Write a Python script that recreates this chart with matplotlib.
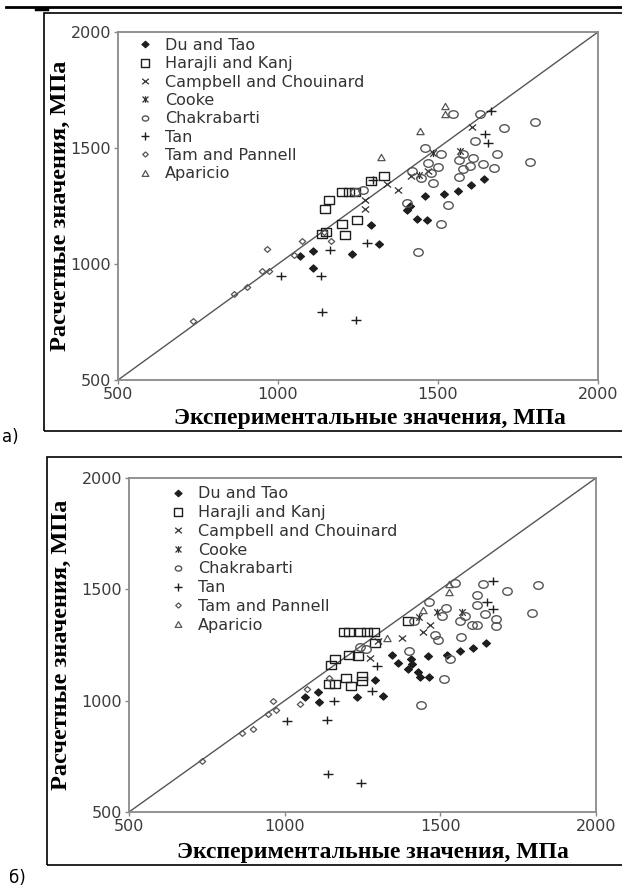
import numpy as np
import matplotlib
matplotlib.use("Agg")
import matplotlib.pyplot as plt
from matplotlib.markers import MarkerStyle
from matplotlib.path import Path
from matplotlib.lines import Line2D

# ---------------------------------------------------------------- data
limits = [500, 2000]
ticks = [500, 1000, 1500, 2000]
tick_labels = ["500", "1000", "1500", "2000"]
series_names = ["Du and Tao", "Harajli and Kanj", "Campbell and Chouinard",
                "Cooke", "Chakrabarti", "Tan", "Tam and Pannell", "Aparicio"]
xlabel_text = "Экспериментальные значения, МПа"
ylabel_text = "Расчетные значения, МПа"
panel_tags = ["а)", "б)"]

# panel (а): experimental vs calculated stress, MPa
du_a_x = [1068, 1110, 1110, 1230, 1292, 1316, 1402, 1413, 1433, 1467, 1460, 1519, 1563, 1602, 1645]
du_a_y = [1036, 1054, 983, 1044, 1166, 1088, 1232, 1250, 1196, 1190, 1295, 1302, 1314, 1340, 1368]
har_a_x = [1136, 1150, 1147, 1160, 1200, 1222, 1240, 1200, 1209, 1248, 1291, 1331]
har_a_y = [1130, 1140, 1235, 1278, 1310, 1310, 1310, 1174, 1127, 1189, 1357, 1380]
cam_a_x = [1272, 1272, 1340, 1376, 1415, 1470, 1606]
cam_a_y = [1235, 1278, 1343, 1321, 1378, 1400, 1589]
coo_a_x = [1485, 1569, 1440]
coo_a_y = [1480, 1487, 1385]
cha_a_x = [1632, 1705, 1802, 1788, 1616, 1683, 1675, 1642, 1610, 1600, 1567, 1577, 1579, 1567,
           1458, 1510, 1500, 1484, 1479, 1418, 1530, 1510, 1438, 1402, 1547, 1448, 1469, 1241, 1266]
cha_a_y = [1645, 1588, 1610, 1441, 1530, 1472, 1415, 1429, 1458, 1422, 1448, 1472, 1408, 1375,
           1502, 1473, 1419, 1347, 1393, 1400, 1253, 1174, 1050, 1264, 1645, 1371, 1435, 1310, 1321]
tan_a_x = [1009, 1134, 1138, 1243, 1162, 1277, 1296, 1647, 1656, 1665]
tan_a_y = [949, 949, 792, 759, 1059, 1091, 1360, 1562, 1523, 1660]
tam_a_x = [733, 862, 902, 949, 973, 965, 1051, 1076, 1145, 1165]
tam_a_y = [755, 870, 899, 968, 968, 1066, 1040, 1098, 1140, 1100]
apa_a_x = [1323, 1444, 1521, 1523]
apa_a_y = [1461, 1573, 1645, 1681]

# panel (б)
du_b_x = [1065, 1106, 1110, 1231, 1290, 1316, 1346, 1365, 1406, 1410, 1397, 1429, 1435, 1465,
          1459, 1522, 1563, 1606, 1646]
du_b_y = [1017, 1037, 992, 1017, 1091, 1019, 1207, 1167, 1185, 1165, 1144, 1127, 1107, 1105,
          1200, 1207, 1222, 1237, 1260]
har_b_x = [1190, 1207, 1242, 1263, 1287, 1162, 1148, 1208, 1234, 1143, 1162, 1196, 1212, 1247,
           1247, 1290, 1397]
har_b_y = [1308, 1308, 1308, 1308, 1308, 1188, 1158, 1203, 1200, 1077, 1076, 1102, 1064, 1109,
           1090, 1260, 1357]
cam_b_x = [1274, 1300, 1376, 1443, 1467]
cam_b_y = [1192, 1270, 1282, 1310, 1342]
coo_b_x = [1488, 1568, 1430]
coo_b_y = [1398, 1398, 1375]
cha_b_x = [1547, 1638, 1715, 1813, 1794, 1619, 1619, 1644, 1679, 1679, 1603, 1617, 1563, 1579,
           1565, 1518, 1504, 1464, 1483, 1494, 1531, 1513, 1437, 1400, 1415, 1242, 1260]
cha_b_y = [1527, 1522, 1492, 1520, 1392, 1473, 1428, 1387, 1368, 1335, 1342, 1342, 1357, 1380,
           1287, 1414, 1380, 1443, 1297, 1272, 1188, 1098, 979, 1225, 1357, 1242, 1233]
tan_b_x = [1006, 1135, 1140, 1244, 1158, 1280, 1297, 1670, 1649, 1668]
tan_b_y = [907, 914, 671, 632, 997, 1042, 1157, 1537, 1443, 1413]
tam_b_x = [733, 862, 899, 945, 971, 963, 1049, 1071, 1143]
tam_b_y = [731, 857, 874, 941, 956, 1000, 986, 1053, 1100]
apa_b_x = [1328, 1443, 1528, 1528]
apa_b_y = [1282, 1407, 1488, 1522]

panel_a = [(du_a_x, du_a_y), (har_a_x, har_a_y), (cam_a_x, cam_a_y), (coo_a_x, coo_a_y),
           (cha_a_x, cha_a_y), (tan_a_x, tan_a_y), (tam_a_x, tam_a_y), (apa_a_x, apa_a_y)]
panel_b = [(du_b_x, du_b_y), (har_b_x, har_b_y), (cam_b_x, cam_b_y), (coo_b_x, coo_b_y),
           (cha_b_x, cha_b_y), (tan_b_x, tan_b_y), (tam_b_x, tam_b_y), (apa_b_x, apa_b_y)]

# ---------------------------------------------------------------- styling
W, H = 622, 888
SANS = "DejaVu Sans"
SERIF = "Liberation Serif"
SPINE = "#8a8a8a"
INK = "#1e1e1e"


def wide(name, sx=1.2):
    """Marker path slightly stretched horizontally."""
    ms = MarkerStyle(name)
    p = ms.get_path().transformed(ms.get_transform())
    return Path(p.vertices * np.array([sx, 1.0]), p.codes)


star_path = Path([(-0.8, -0.8), (0.8, 0.8), (-0.8, 0.8), (0.8, -0.8), (0, -0.9), (0, 0.9)],
                 [Path.MOVETO, Path.LINETO, Path.MOVETO, Path.LINETO, Path.MOVETO, Path.LINETO])

# marker, size in plot, size in legend, face, edge, edge width
styles = [
    (wide("D", 1.1), 5.8, 5.2, INK, INK, 0.8),
    (wide("s", 1.15), 6.8, 6.0, "none", INK, 1.0),
    (wide("x", 1.2), 5.2, 4.8, "none", "#333333", 0.9),
    (star_path, 5.2, 4.8, "none", "#333333", 0.9),
    (wide("o", 1.25), 6.8, 4.6, "none", "#555555", 1.0),
    (wide("+", 1.15), 6.8, 6.2, "none", INK, 1.0),
    (wide("D", 1.1), 4.6, 4.0, "none", "#555555", 0.9),
    (wide("^", 1.15), 5.2, 4.8, "none", "#555555", 0.9),
]

fig = plt.figure(figsize=(W / 100, H / 100), dpi=100)


def fbox(l, t, r, b):
    return [l / W, 1 - b / H, (r - l) / W, (b - t) / H]


def frame(l, t, b):
    fig.add_artist(plt.Rectangle((l / W, 1 - b / H), (W + 20 - l) / W, (b - t) / H,
                                 transform=fig.transFigure, fill=False, ec="black",
                                 lw=1.2, clip_on=False))


def panel(rect, data, leg_anchor, leg_spacing, xlab_pos, ylab_x):
    ax = fig.add_axes(rect)
    ax.plot(limits, limits, color="#555555", lw=1.0, zorder=1)
    for (xs, ys), (mk, ms, _, fc, ec, mw) in zip(data, styles):
        ax.plot(xs, ys, ls="none", marker=mk, ms=ms, mfc=fc, mec=ec, mew=mw, zorder=3)
    ax.set_xlim(limits)
    ax.set_ylim(limits)
    ax.set_xticks(ticks)
    ax.set_yticks(ticks)
    ax.set_xticklabels(tick_labels, fontsize=11.5, family=SANS, color="#3c3c3c")
    ax.set_yticklabels(tick_labels, fontsize=11.5, family=SANS, color="#3c3c3c")
    ax.tick_params(direction="out", length=3, width=1.0, color=SPINE, pad=2)
    for s in ax.spines.values():
        s.set_color(SPINE)
        s.set_linewidth(1.3)
    ax.set_xlabel(xlabel_text, family=SERIF, fontweight="bold", fontsize=17, color="black")
    ax.xaxis.label.set_va("baseline")
    ax.xaxis.set_label_coords(*xlab_pos)
    ax.set_ylabel(ylabel_text, family=SERIF, fontweight="bold", fontsize=17.5, color="black")
    ax.yaxis.set_label_coords(ylab_x, 0.5)
    handles = [Line2D([], [], ls="none", marker=mk, ms=lms, mfc=fc, mec=ec, mew=mw)
               for (mk, _, lms, fc, ec, mw) in styles]
    ax.legend(handles, series_names, loc="upper left", bbox_to_anchor=leg_anchor,
              frameon=False, borderpad=0, borderaxespad=0, handlelength=1.0,
              handletextpad=0.75, labelspacing=leg_spacing,
              prop={"family": SANS, "size": 11.5}, labelcolor="#333333")
    return ax


# top rule of the page and the two framed panels
fig.add_artist(Line2D([6 / W, 1.0], [1 - 7 / H, 1 - 7 / H], color="black", lw=2.0,
                      transform=fig.transFigure))
fig.add_artist(Line2D([36 / W, 47 / W], [1 - 9 / H, 1 - 9 / H], color="black", lw=2.5,
                      transform=fig.transFigure))
frame(44, 13, 431)
frame(47, 457, 865)

panel(fbox(118, 32, 598, 380), panel_a, (0.0396, 0.983), 0.21, (0.525, -0.125), -0.098)
panel(fbox(129, 478, 596, 812), panel_b, (0.0878, 0.975), 0.235, (0.522, -0.138), -0.122)

fig.text(2 / W, 1 - 437 / H, panel_tags[0], family=SANS, fontsize=12, va="center", ha="left")
fig.text(9 / W, 1 - 878 / H, panel_tags[1], family=SANS, fontsize=12, va="center", ha="left")

fig.savefig("out.png", dpi=100)
